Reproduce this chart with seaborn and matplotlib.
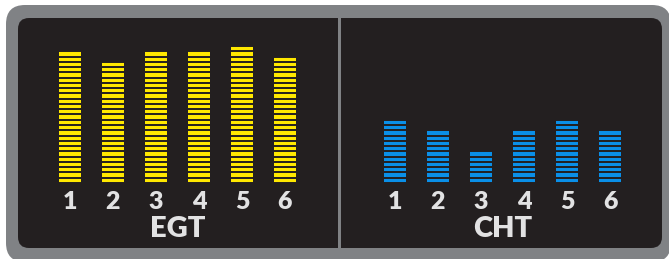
import numpy as np
import matplotlib
matplotlib.use("Agg")
import matplotlib.pyplot as plt
import matplotlib.transforms as mtransforms
from matplotlib.patches import FancyBboxPatch, Rectangle
import seaborn as sns

# data: number of lit segments per cylinder
cylinders = ["1", "2", "3", "4", "5", "6"]
egt_segments = [25, 23, 25, 25, 26, 24]
cht_segments = [12, 10, 6, 10, 12, 10]

sns.set_style("white")
plt.rcParams["font.family"] = ["Lato", "DejaVu Sans"]
plt.rcParams["font.weight"] = "bold"

W, H = 669, 259
panel = "#231f20"
frame = "#808285"
text_col = "#e2e2e3"

fig = plt.figure(figsize=(W / 100, H / 100), dpi=100)
fig.patch.set_facecolor("white")
px = mtransforms.IdentityTransform()

# outer grey frame and inner dark panel (pixel coords, origin bottom-left)
fig.patches.append(FancyBboxPatch((6, H - 262), 665, 257,
                                  boxstyle="round,pad=0,rounding_size=19",
                                  fc=frame, ec="none", transform=px, figure=fig,
                                  zorder=-10))
fig.patches.append(FancyBboxPatch((18, H - 248), 644, 230,
                                  boxstyle="round,pad=0,rounding_size=11",
                                  fc=panel, ec="none", transform=px, figure=fig,
                                  zorder=-9))
fig.patches.append(Rectangle((338, H - 250), 3, 233, fc=frame, ec="none",
                             transform=px, figure=fig, zorder=-8))

pitch = 5.27
ymax = 28
ax_h = ymax * pitch
bottom_px = 183


def gauge(left_px, values, color, label):
    ax = fig.add_axes([left_px / W, (H - bottom_px) / H, 6 * 43 / W, ax_h / H])
    ax.set_facecolor("none")
    sns.barplot(x=cylinders, y=values, color=color, width=0.5, saturation=1,
                errorbar=None, ax=ax, edgecolor="none")
    # cut the bars into segments
    levels = np.arange(0, max(values) + 1)
    ax.hlines(levels, -0.5, len(cylinders) - 0.5, color=panel, lw=1.4)
    ax.set_xlim(-0.5, len(cylinders) - 0.5)
    ax.set_ylim(0, ymax)
    ax.set_yticks([])
    ax.tick_params(axis="x", length=0, pad=6, labelsize=18, labelcolor=text_col)
    for t in ax.get_xticklabels():
        t.set_fontweight("heavy")
    ax.set_xlabel(label, fontsize=21, fontweight="heavy", color=text_col, labelpad=2)
    ax.set_ylabel("")
    sns.despine(ax=ax, left=True, bottom=True)
    return ax


gauge(48.5, egt_segments, "#ffe800", "EGT")
gauge(373.5, cht_segments, "#0a8fe8", "CHT")

fig.savefig("out.png", dpi=100)
